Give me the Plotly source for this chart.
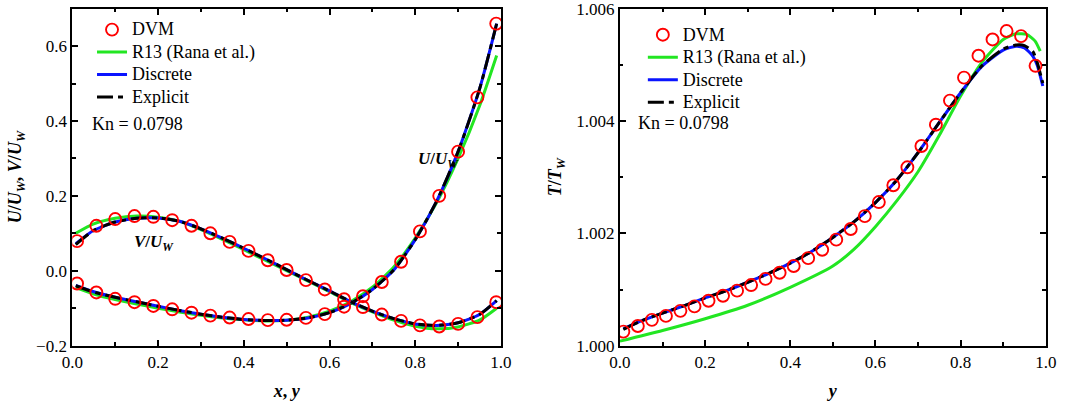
import plotly.graph_objects as go

# ---------------- Velocity profiles (left panel) ----------------
x_dvm = [0.011, 0.056, 0.100, 0.145, 0.189, 0.233, 0.278, 0.322, 0.367, 0.411,
         0.456, 0.500, 0.545, 0.589, 0.634, 0.678, 0.722, 0.767, 0.811, 0.856,
         0.900, 0.945, 0.989]
u_dvm = [-0.034, -0.058, -0.075, -0.084, -0.094, -0.103, -0.112, -0.120, -0.125, -0.129,
         -0.132, -0.131, -0.126, -0.116, -0.096, -0.068, -0.030, 0.024, 0.105, 0.200,
         0.318, 0.463, 0.660]
v_dvm = [0.079, 0.120, 0.138, 0.146, 0.144, 0.135, 0.120, 0.100, 0.077, 0.053,
         0.028, 0.002, -0.025, -0.050, -0.076, -0.097, -0.117, -0.134, -0.146, -0.149,
         -0.142, -0.124, -0.084]

x_line = [0.008, 0.05, 0.10, 0.15, 0.20, 0.25, 0.30, 0.35, 0.40, 0.45, 0.50,
          0.55, 0.60, 0.65, 0.70, 0.75, 0.80, 0.85, 0.90, 0.95, 0.99]
u_r13 = [-0.045, -0.062, -0.077, -0.089, -0.100, -0.110, -0.119, -0.126, -0.131, -0.134, -0.132,
         -0.124, -0.108, -0.082, -0.044, 0.010, 0.087, 0.182, 0.300, 0.440, 0.575]
v_r13 = [0.100, 0.125, 0.140, 0.146, 0.143, 0.132, 0.110, 0.084, 0.056, 0.028, 0.000,
         -0.028, -0.056, -0.085, -0.110, -0.132, -0.148, -0.155, -0.150, -0.132, -0.100]
u_discrete = [-0.039, -0.056, -0.071, -0.083, -0.095, -0.106, -0.116, -0.124, -0.130, -0.133, -0.132,
              -0.126, -0.112, -0.087, -0.050, 0.002, 0.083, 0.186, 0.318, 0.485, 0.660]
v_discrete = [0.072, 0.108, 0.130, 0.140, 0.141, 0.132, 0.112, 0.087, 0.060, 0.032, 0.003,
              -0.026, -0.054, -0.083, -0.108, -0.128, -0.142, -0.146, -0.139, -0.117, -0.080]
u_explicit = [-0.040, -0.057, -0.071, -0.083, -0.095, -0.106, -0.116, -0.124, -0.130, -0.133, -0.132,
              -0.126, -0.112, -0.087, -0.050, 0.002, 0.083, 0.186, 0.318, 0.485, 0.660]
v_explicit = [0.070, 0.108, 0.130, 0.140, 0.141, 0.132, 0.112, 0.087, 0.060, 0.032, 0.003,
              -0.026, -0.054, -0.083, -0.108, -0.128, -0.142, -0.146, -0.139, -0.117, -0.080]

# ---------------- Temperature profile (right panel) ----------------
y_dvm = [0.008, 0.042, 0.075, 0.108, 0.142, 0.175, 0.208, 0.242, 0.275, 0.308,
         0.342, 0.375, 0.408, 0.442, 0.475, 0.508, 0.542, 0.575, 0.608, 0.642,
         0.675, 0.708, 0.742, 0.775, 0.808, 0.842, 0.875, 0.908, 0.942, 0.976]
t_dvm = [1.00025, 1.00035, 1.00046, 1.00053, 1.00062, 1.00070, 1.00080, 1.00089, 1.00098, 1.00108,
         1.00119, 1.00130, 1.00142, 1.00156, 1.00171, 1.00189, 1.00208, 1.00231, 1.00256, 1.00286,
         1.00318, 1.00356, 1.00394, 1.00437, 1.00478, 1.00517, 1.00546, 1.00561, 1.00552, 1.00499]

y_r13 = [0.0, 0.10, 0.20, 0.30, 0.40, 0.50, 0.55, 0.60, 0.65, 0.70, 0.75, 0.80,
         0.85, 0.90, 0.93, 0.955, 0.975, 0.987]
t_r13 = [1.00008, 1.00027, 1.00048, 1.00072, 1.00104, 1.00142, 1.00172, 1.00212, 1.00258,
         1.00310, 1.00375, 1.00445, 1.00505, 1.00546, 1.00556, 1.00555, 1.00543, 1.00525]

y_model = [0.008, 0.05, 0.10, 0.15, 0.20, 0.25, 0.30, 0.35, 0.40, 0.45, 0.50, 0.55,
           0.60, 0.65, 0.70, 0.75, 0.80, 0.85, 0.90, 0.93, 0.95, 0.97, 0.98, 0.993]
t_discrete = [1.00030, 1.00044, 1.00058, 1.00071, 1.00085, 1.00098, 1.00113, 1.00129, 1.00147,
              1.00168, 1.00193, 1.00221, 1.00255, 1.00295, 1.00344, 1.00398, 1.00451, 1.00498,
              1.00527, 1.00534, 1.00531, 1.00516, 1.00500, 1.00463]
t_explicit = [1.00029, 1.00044, 1.00058, 1.00071, 1.00085, 1.00098, 1.00113, 1.00129, 1.00147,
              1.00168, 1.00193, 1.00221, 1.00255, 1.00295, 1.00344, 1.00398, 1.00451, 1.00499,
              1.00529, 1.00536, 1.00535, 1.00524, 1.00505, 1.00468]

left_ticks = [-0.2, 0.0, 0.2, 0.4, 0.6]
right_ticks = [1.000, 1.002, 1.004, 1.006]
right_tick_text = ["1.000", "1.002", "1.004", "1.006"]

FONT = "Liberation Serif, 'Times New Roman', 'DejaVu Serif', serif"
RED, GREEN, BLUE, BLACK = "#ff0000", "#22e622", "#0a14ff", "#000000"
DASHDOT = "16px,5px,5px,5px"


def entry(label):
    # legend labels are set a little larger than the legend's row pitch font
    return f'<span style="font-size:18px">{label}</span>'


fig = go.Figure()


def add_lines(xs, ys, xa, ya, leg, show):
    for x, vals, name, color, dash, rank in [
        (xs[0], ys[0], "R13 (Rana et al.)", GREEN, "solid", 2),
        (xs[1], ys[1], "Discrete", BLUE, "solid", 3),
        (xs[2], ys[2], "Explicit", BLACK, DASHDOT, 4),
    ]:
        fig.add_trace(go.Scatter(
            x=x, y=vals, mode="lines", name=entry(name), xaxis=xa, yaxis=ya,
            line=dict(color=color, width=3, dash=dash, shape="spline", smoothing=0.6),
            legend=leg, legendrank=rank, showlegend=show))


def add_dvm(x, y, xa, ya, leg, show):
    fig.add_trace(go.Scatter(
        x=x, y=y, mode="markers", name=entry("DVM"), xaxis=xa, yaxis=ya,
        marker=dict(symbol="circle-open", size=12, color=RED, line=dict(width=1.9, color=RED)),
        legend=leg, legendrank=1, showlegend=show))


# left panel: U along the vertical centreline, V along the horizontal one
add_lines((x_line,) * 3, (u_r13, u_discrete, u_explicit), "x", "y", "legend", True)
add_lines((x_line,) * 3, (v_r13, v_discrete, v_explicit), "x", "y", "legend", False)
add_dvm(x_dvm, u_dvm, "x", "y", "legend", True)
add_dvm(x_dvm, v_dvm, "x", "y", "legend", False)

# right panel: temperature
add_lines((y_r13, y_model, y_model), (t_r13, t_discrete, t_explicit), "x2", "y2", "legend2", True)
add_dvm(y_dvm, t_dvm, "x2", "y2", "legend2", True)

axis_common = dict(
    showgrid=False, zeroline=False, showline=True, linecolor="black", linewidth=2,
    mirror="allticks", ticks="inside", ticklen=6, tickwidth=1.5, tickcolor="black",
    automargin=False,
    tickfont=dict(family=FONT, size=17, color="black"),
)
minor_common = dict(ticks="inside", ticklen=3.5, tickwidth=1.5, tickcolor="black")
title_font = dict(family=FONT, size=18, color="black")
legend_font = dict(family=FONT, size=15, color="black")

fig.update_layout(
    width=1075, height=410,
    margin=dict(l=0, r=0, t=0, b=0),
    paper_bgcolor="white", plot_bgcolor="white",
    font=dict(family=FONT, size=16, color="black"),
    xaxis=dict(domain=[0.0673, 0.466], range=[0, 1], dtick=0.2, tickformat=".1f",
               anchor="y", minor=dict(dtick=0.1, **minor_common),
               title=dict(text="<b><i>x</i>, <i>y</i></b>", font=title_font, standoff=13),
               **axis_common),
    yaxis=dict(domain=[0.157, 0.979], range=[-0.2, 0.7], tickvals=left_ticks, tickformat=".1f",
               anchor="x", minor=dict(tickvals=[-0.1, 0.1, 0.3, 0.5, 0.7], **minor_common),
               title=dict(text="<b><i>U</i>/<i>U</i><sub><i>W</i></sub>, <i>V</i>/<i>U</i><sub><i>W</i></sub></b>",
                          font=title_font, standoff=10),
               **axis_common),
    xaxis2=dict(domain=[0.5767, 0.9728], range=[0, 1], dtick=0.2, tickformat=".1f",
                anchor="y2", minor=dict(dtick=0.1, **minor_common),
                title=dict(text="<b><i>y</i></b>", font=title_font, standoff=13),
                **axis_common),
    yaxis2=dict(domain=[0.157, 0.979], range=[1.0, 1.00601], tickvals=right_ticks,
                ticktext=right_tick_text, anchor="x2",
                minor=dict(tickvals=[1.001, 1.003, 1.005], **minor_common),
                title=dict(text="<b><i>T</i>/<i>T</i><sub><i>W</i></sub></b>",
                           font=title_font, standoff=10),
                **axis_common),
    legend=dict(x=0.0856, y=0.9675, xanchor="left", yanchor="top", bgcolor="rgba(0,0,0,0)",
                font=legend_font, tracegroupgap=0, traceorder="normal"),
    legend2=dict(x=0.598, y=0.955, xanchor="left", yanchor="top", bgcolor="rgba(0,0,0,0)",
                 font=legend_font, tracegroupgap=0, traceorder="normal"),
)

ann_font = dict(family=FONT, size=18, color="black")
fig.add_annotation(x=0.041, y=0.391, xref="x", yref="y", text="Kn = 0.0798", showarrow=False,
                   xanchor="left", font=ann_font)
fig.add_annotation(x=0.0376, y=1.00397, xref="x2", yref="y2", text="Kn = 0.0798", showarrow=False,
                   xanchor="left", font=ann_font)
fig.add_annotation(x=0.855, y=0.295, xref="x", yref="y",
                   text="<b><i>U</i>/<i>U</i><sub><i>W</i></sub></b>", showarrow=False,
                   font=dict(family=FONT, size=17, color="black"))
fig.add_annotation(x=0.19, y=0.073, xref="x", yref="y",
                   text="<b><i>V</i>/<i>U</i><sub><i>W</i></sub></b>", showarrow=False,
                   font=dict(family=FONT, size=17, color="black"))

fig.write_html("out.html")
